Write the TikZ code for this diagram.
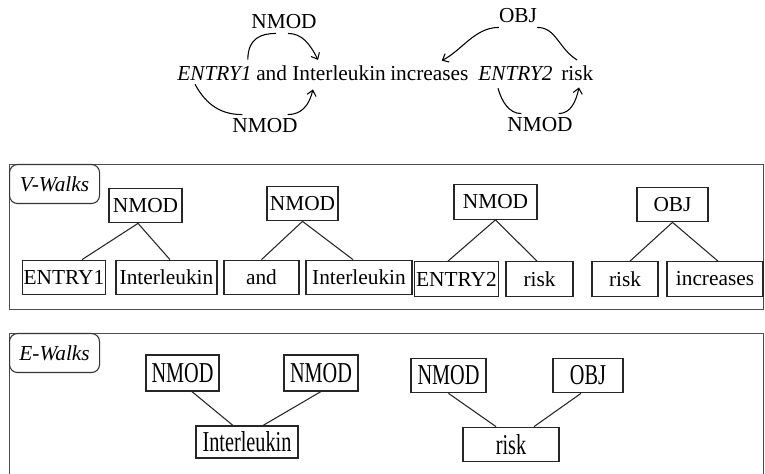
\documentclass[tikz,border=0pt]{standalone}
\usepackage{fontspec}
\setmainfont{Liberation Serif}
\usetikzlibrary{arrows.meta, positioning}

\newcommand{\tall}[1]{\scalebox{0.95}[1.35]{#1}}

\begin{document}
\begin{tikzpicture}[
    x=0.75pt, y=-0.75pt,
    >={Straight Barb[length=4pt,width=7pt]},
    font=\fontsize{16}{19}\selectfont,
    word/.style={inner sep=0pt, anchor=base west},
    arclabel/.style={inner sep=3pt},
    arc/.style={line width=0.8pt},
    panel/.style={draw=black!70, line width=1.1pt, anchor=north west, inner sep=0pt},
    tag/.style={draw=black!80, fill=white, line width=0.8pt, rounded corners=6pt, anchor=north west, minimum width=67.5pt, minimum height=29.25pt},
    wbox/.style={draw=black!85, line width=0.8pt, inner sep=1pt, minimum height=26pt},
    link/.style={draw=black!85, line width=0.8pt}
]
\useasboundingbox (0,0) rectangle (765,474);

% Sentence
\node[word] (ent1) at (177,81) {\textit{ENTRY1}};
\node[word] (and) at (256,81) {and};
\node[word] (il) at (292,81) {Interleukin};
\node[word] (inc) at (390,81) {increases};
\node[word] (ent2) at (478,81) {\textit{ENTRY2}};
\node[word] (risk) at (561,81) {risk};

% Dependency labels
\node[arclabel] (nmodtop) at (284,22) {NMOD};
\node[arclabel] (nmodbot) at (265,126) {NMOD};
\node[arclabel] (obj) at (518,16) {OBJ};
\node[arclabel] (nmodr) at (540,125) {NMOD};

% Dependency arcs
\draw[arc] ([shift={(-4,-7)}]ent1.north east) .. controls +(0,-22) and +(-14,0) .. ([xshift=-6pt]nmodtop.south);
\draw[arc, ->] ([xshift=3pt]nmodtop.south) .. controls +(14,0) and +(-8,-16) .. ([shift={(26,-6)}]il.north west);
\draw[arc] ([shift={(18,3)}]ent1.south west) .. controls +(12,22) and +(-20,0) .. ([xshift=-17pt]nmodbot.north);
\draw[arc, ->] ([xshift=17pt]nmodbot.north) .. controls +(14,0) and +(-4,16) .. ([shift={(21,8)}]il.south west);
\draw[arc] ([shift={(16,-6)}]risk.north west) .. controls +(-19,-12) and +(19,0) .. ([xshift=-3pt]obj.south east);
\draw[arc, ->] ([xshift=3pt]obj.south west) .. controls +(-24,0) and +(20,-10) .. ([shift={(-27,-6)}]inc.north east);
\draw[arc] ([shift={(20,7)}]ent2.south west) .. controls +(4,14) and +(-12,0) .. ([xshift=-14pt]nmodr.north);
\draw[arc, ->] ([xshift=14pt]nmodr.north) .. controls +(12,0) and +(-3,14) .. ([shift={(18,6)}]risk.south west);

% V-Walks
\node[panel, minimum width=565.5pt, minimum height=108.75pt] (vpanel) at (9,164) {};
\node[tag] (vtag) at (vpanel.north west) {\textit{V-Walks}};

\node[wbox, minimum width=54.75pt] (vnmodA) at (145.5,205.5) {NMOD};
\node[wbox, minimum width=58.5pt] (ventA) at (64,277.5) {ENTRY1};
\node[wbox, minimum width=75.75pt] (vilA) at (166.5,277.5) {Interleukin};
\node[wbox, minimum width=53.25pt] (vnmodB) at (302.5,203.5) {NMOD};
\node[wbox, minimum width=56.25pt] (vand) at (261.5,277.5) {and};
\node[wbox, minimum width=79.5pt] (vilB) at (359,277.5) {Interleukin};
\node[wbox, minimum width=62.25pt] (vnmodC) at (495.5,202) {NMOD};
\node[wbox, minimum width=60.75pt] (ventB) at (456.5,279) {ENTRY2};
\node[wbox, minimum width=50.25pt] (vriskA) at (539.5,279) {risk};
\node[wbox, minimum width=53.25pt] (vobj) at (672.5,204.5) {OBJ};
\node[wbox, minimum width=49.5pt] (vriskB) at (625,279) {risk};
\node[wbox, minimum width=72pt] (vinc) at (715,279) {increases};

\draw[link] ([xshift=-5.6pt]vnmodA.south) -- ([xshift=13.5pt]ventA.north);
\draw[link] ([xshift=-5.6pt]vnmodA.south) -- ([xshift=2.6pt]vilA.north);
\draw[link] (vnmodB.south) -- (vand.north);
\draw[link] (vnmodB.south) -- ([xshift=-4.5pt]vilB.north);
\draw[link] (vnmodC.south) -- ([xshift=-6.4pt]ventB.north);
\draw[link] (vnmodC.south) -- ([xshift=-1.9pt]vriskA.north);
\draw[link] (vobj.south) -- ([xshift=3.75pt]vriskB.north);
\draw[link] (vobj.south) -- ([xshift=2.25pt]vinc.north);

% E-Walks
\node[panel, minimum width=565.5pt, minimum height=117.75pt] (epanel) at (9,333) {};
\node[tag] (etag) at (epanel.north west) {\textit{E-Walks}};

\node[wbox, minimum width=54.75pt, minimum height=27pt] (enmodA) at (182.5,373) {\tall{NMOD}};
\node[wbox, minimum width=55.5pt, minimum height=27pt] (enmodB) at (321,373) {\tall{NMOD}};
\node[wbox, minimum width=76.5pt, minimum height=24pt] (eil) at (247,442) {\tall{Interleukin}};
\node[wbox, minimum width=56.25pt] (enmodC) at (448.5,375.5) {\tall{NMOD}};
\node[wbox, minimum width=52.5pt] (eobj) at (588,375.5) {\tall{OBJ}};
\node[wbox, minimum width=72pt] (erisk) at (511,444.5) {\tall{risk}};

\draw[link] ([xshift=7pt]enmodA.south) -- ([xshift=-10.5pt]eil.north);
\draw[link] (enmodB.south) -- ([xshift=12pt]eil.north);
\draw[link] (enmodC.south) -- ([xshift=-11.25pt]erisk.north);
\draw[link] ([xshift=-5.25pt]eobj.south) -- ([xshift=17.25pt]erisk.north);

\end{tikzpicture}
\end{document}
